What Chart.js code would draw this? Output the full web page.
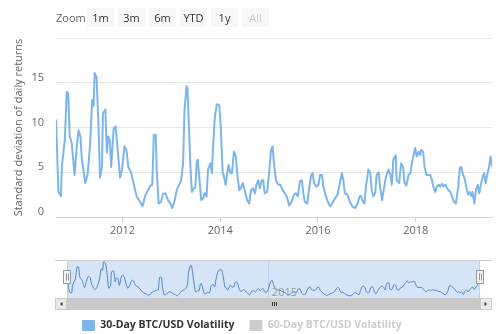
<!DOCTYPE html>
<html>
<head>
<meta charset="utf-8">
<script src="https://cdn.jsdelivr.net/npm/chart.js@4/dist/chart.umd.min.js"></script>
<style>
  body { margin: 0; width: 500px; height: 334px; overflow: hidden; background: #fff; font-family: 'Open Sans', sans-serif; }
  #wrap { position: relative; width: 500px; height: 334px; }
  canvas { position: absolute; left: 0; }
  #mainChart { top: 0; }
  #navChart { top: 250px; }
  .zoom-label { position: absolute; left: 56px; top: 9px; font-size: 11px; color: #666; line-height: 17px; }
  .rs-btn { position: absolute; top: 8px; width: 27px; height: 19px; background: #f7f7f7; color: #333;
            font-size: 11px; line-height: 19px; text-align: center; }
  .rs-btn.off { color: #ccc; }
</style>
</head>
<body>
<div id="wrap">
  <canvas id="mainChart" width="500" height="250"></canvas>
  <canvas id="navChart" width="500" height="91"></canvas>
  <div class="zoom-label">Zoom</div>
  <div id="buttons"></div>
</div>
<script>
// decimal years and 30-day volatility
const years = [
  2010.64, 2010.69, 2010.74, 2010.76, 2010.82, 2010.86, 2010.89, 2010.92, 2010.96, 2011.02,
  2011.06, 2011.10, 2011.14, 2011.17, 2011.24, 2011.29, 2011.34, 2011.38, 2011.41, 2011.43,
  2011.47, 2011.51, 2011.54, 2011.58, 2011.60, 2011.65, 2011.68, 2011.71, 2011.74, 2011.77,
  2011.82, 2011.86, 2011.90, 2011.95, 2011.99, 2012.04, 2012.08, 2012.12, 2012.18, 2012.25,
  2012.29, 2012.36, 2012.41, 2012.46, 2012.52, 2012.57, 2012.61, 2012.64, 2012.68, 2012.70,
  2012.74, 2012.79, 2012.83, 2012.88, 2012.93, 2012.98, 2013.02, 2013.07, 2013.11, 2013.15,
  2013.20, 2013.24, 2013.27, 2013.31, 2013.33, 2013.36, 2013.39, 2013.42, 2013.46, 2013.49,
  2013.52, 2013.54, 2013.57, 2013.61, 2013.65, 2013.68, 2013.72, 2013.75, 2013.80, 2013.83,
  2013.85, 2013.89, 2013.93, 2013.98, 2014.01, 2014.05, 2014.07, 2014.11, 2014.14, 2014.17,
  2014.21, 2014.24, 2014.28, 2014.32, 2014.35, 2014.39, 2014.42, 2014.46, 2014.50, 2014.55,
  2014.59, 2014.63, 2014.67, 2014.71, 2014.74, 2014.78, 2014.81, 2014.85, 2014.88, 2014.91,
  2014.96, 2015.00, 2015.04, 2015.07, 2015.10, 2015.14, 2015.19, 2015.23, 2015.28, 2015.32,
  2015.36, 2015.41, 2015.46, 2015.51, 2015.55, 2015.59, 2015.63, 2015.67, 2015.70, 2015.73,
  2015.78, 2015.82, 2015.86, 2015.89, 2015.92, 2015.97, 2016.01, 2016.04, 2016.08, 2016.11,
  2016.15, 2016.20, 2016.25, 2016.29, 2016.35, 2016.40, 2016.44, 2016.49, 2016.52, 2016.55,
  2016.60, 2016.66, 2016.71, 2016.76, 2016.81, 2016.85, 2016.88, 2016.92, 2016.95, 2016.98,
  2017.03, 2017.07, 2017.10, 2017.13, 2017.17, 2017.20, 2017.24, 2017.27, 2017.31, 2017.35,
  2017.39, 2017.44, 2017.48, 2017.51, 2017.54, 2017.59, 2017.61, 2017.66, 2017.70, 2017.74,
  2017.77, 2017.81, 2017.85, 2017.89, 2017.92, 2017.95, 2017.99, 2018.02, 2018.06, 2018.09,
  2018.11, 2018.15, 2018.18, 2018.22, 2018.26, 2018.30, 2018.33, 2018.36, 2018.40, 2018.43,
  2018.47, 2018.50, 2018.54, 2018.57, 2018.61, 2018.64, 2018.67, 2018.71, 2018.74, 2018.78,
  2018.82, 2018.87, 2018.90, 2018.93, 2018.97, 2019.00, 2019.04, 2019.07, 2019.10, 2019.14,
  2019.16, 2019.20, 2019.23, 2019.27, 2019.30, 2019.34, 2019.37, 2019.40, 2019.43, 2019.47,
  2019.50, 2019.53, 2019.56
];
const vol30 = [
  10.9, 2.8, 2.35, 5.6, 8.6, 14.0, 13.8, 9.0, 8.3, 4.7,
  7.5, 9.7, 9.0, 6.4, 3.8, 4.9, 8.3, 13.1, 12.4, 16.1,
  15.6, 10.1, 4.4, 5.6, 11.6, 12.0, 7.2, 9.0, 8.6, 5.6,
  9.9, 10.1, 7.7, 4.4, 5.3, 7.9, 7.5, 5.6, 4.9, 3.2,
  2.3, 1.7, 1.2, 2.3, 3.0, 3.5, 3.6, 9.2, 9.2, 5.3,
  1.5, 1.7, 2.6, 2.65, 1.9, 1.5, 1.0, 1.9, 3.0, 3.5,
  4.1, 6.0, 12.0, 14.6, 14.4, 10.1, 5.6, 2.8, 3.2, 3.3,
  6.2, 6.4, 4.5, 1.9, 2.1, 2.65, 2.3, 5.3, 6.0, 4.9,
  7.5, 11.2, 12.6, 12.5, 10.1, 4.9, 4.7, 3.6, 4.7, 5.8,
  4.9, 4.9, 7.3, 6.75, 4.7, 3.0, 3.2, 3.8, 3.0, 1.9,
  1.5, 3.0, 3.2, 2.65, 3.6, 4.1, 3.2, 4.1, 4.1, 2.65,
  2.8, 4.9, 7.5, 7.9, 6.0, 4.1, 3.6, 3.6, 3.0, 2.65,
  2.3, 1.3, 1.7, 2.5, 2.65, 2.3, 4.0, 4.1, 2.65, 1.7,
  1.5, 3.2, 4.7, 4.9, 3.8, 3.4, 3.6, 4.7, 4.7, 3.4,
  2.5, 1.7, 1.2, 1.5, 2.1, 2.5, 3.6, 4.9, 4.1, 2.65,
  2.5, 1.6, 1.15, 1.0, 1.5, 2.3, 2.35, 1.7, 1.5, 3.4,
  5.3, 4.9, 3.0, 2.3, 2.65, 4.7, 5.0, 3.4, 1.9, 3.2,
  4.5, 5.3, 4.7, 3.6, 6.4, 6.9, 4.1, 3.8, 6.0, 5.6,
  3.8, 3.5, 4.7, 4.9, 6.0, 6.75, 7.7, 6.75, 7.3, 6.9,
  7.5, 7.3, 5.6, 4.7, 4.7, 4.7, 4.1, 3.4, 2.8, 3.4,
  3.6, 3.4, 3.7, 3.4, 3.6, 3.2, 3.0, 2.8, 2.3, 1.7,
  1.5, 3.4, 5.45, 5.6, 4.7, 4.3, 3.2, 2.5, 2.8, 2.35,
  2.8, 1.5, 3.0, 3.6, 2.65, 3.8, 4.5, 4.9, 3.8, 4.9,
  5.6, 6.75, 5.6
];
const seriesNames = ['30-Day BTC/USD Volatility', '60-Day BTC/USD Volatility'];
const xTicks = [2012, 2014, 2016, 2018];
const yTicks = [0, 5, 10, 15, 20];
const navTicks = [2015];
const zoomButtons = ['1m', '3m', '6m', 'YTD', '1y', 'All'];
const yTitle = 'Standard deviation of daily returns';

const FONT = "'Open Sans', sans-serif";
const points = years.map((y, i) => ({ x: y, y: vol30[i] }));

// range selector buttons
const btnBox = document.getElementById('buttons');
zoomButtons.forEach((b, i) => {
  const d = document.createElement('div');
  d.className = 'rs-btn' + (b === 'All' ? ' off' : '');
  d.style.left = (87 + i * 31) + 'px';
  d.textContent = b;
  btnBox.appendChild(d);
});

new Chart(document.getElementById('mainChart'), {
  type: 'line',
  data: {
    datasets: [{
      label: seriesNames[0],
      data: points,
      borderColor: '#7cb5ec',
      borderWidth: 2,
      borderJoinStyle: 'round',
      pointRadius: 0,
      tension: 0,
      fill: false
    }]
  },
  options: {
    responsive: false,
    animation: false,
    layout: { padding: { top: 38, right: 8, left: 0, bottom: 0 } },
    plugins: { legend: { display: false }, tooltip: { enabled: false } },
    scales: {
      x: {
        type: 'linear',
        min: years[0],
        max: years[years.length - 1],
        afterBuildTicks: s => { s.ticks = xTicks.map(v => ({ value: v })); },
        afterFit: s => { s.height = 33; },
        grid: { drawOnChartArea: false, drawTicks: true, tickLength: 5, tickColor: '#ccd6eb' },
        border: { color: '#ccd6eb' },
        ticks: {
          callback: v => String(v),
          color: '#666',
          font: { family: FONT, size: 11 },
          maxRotation: 0,
          autoSkip: false,
          padding: 2
        }
      },
      y: {
        min: 0,
        max: 20,
        afterBuildTicks: s => { s.ticks = yTicks.map(v => ({ value: v })); },
        afterFit: s => { s.width = 56; },
        grid: { color: '#e6e6e6', drawTicks: false },
        border: { display: false },
        ticks: {
          callback: v => (v === 20 ? '' : String(v)),
          color: '#666',
          font: { family: FONT, size: 11 },
          padding: 12,
          labelOffset: -5
        },
        title: {
          display: true,
          text: yTitle,
          color: '#666',
          font: { family: FONT, size: 11 },
          padding: { top: 12, bottom: 0 }
        }
      }
    }
  }
});

// navigator extras: mask, outline, handles, scrollbar, axis label
const navDecor = {
  id: 'navDecor',
  beforeDraw(chart) {
    const { ctx, chartArea: a } = chart;
    ctx.save();
    ctx.fillStyle = '#d6e4f7';
    ctx.fillRect(a.left, a.top, a.right - a.left, a.bottom - a.top);
    ctx.restore();
  },
  afterDraw(chart) {
    const { ctx, chartArea: a } = chart;
    const outL = a.left - 12, outR = a.right + 12;
    ctx.save();
    // outline
    ctx.strokeStyle = '#cccccc';
    ctx.lineWidth = 1;
    ctx.beginPath();
    ctx.moveTo(outL, a.top + 0.5);
    ctx.lineTo(outR, a.top + 0.5);
    ctx.moveTo(a.left + 0.5, a.top);
    ctx.lineTo(a.left + 0.5, a.bottom);
    ctx.moveTo(a.right - 0.5, a.top);
    ctx.lineTo(a.right - 0.5, a.bottom);
    ctx.stroke();

    // axis label inside navigator
    const x15 = chart.scales.x.getPixelForValue(navTicks[0]);
    ctx.fillStyle = '#999';
    ctx.font = '11px ' + FONT;
    ctx.textBaseline = 'middle';
    ctx.fillText(String(navTicks[0]), x15 + 3, a.bottom - 5);

    // scrollbar
    const sy = a.bottom, sh = 12;
    ctx.fillStyle = '#f2f2f2';
    ctx.fillRect(outL, sy, outR - outL, sh);
    ctx.fillStyle = '#c9c9c9';
    ctx.fillRect(a.left, sy, a.right - a.left, sh);
    [[outL, -1], [a.right, 1]].forEach(([bx, dir]) => {
      ctx.fillStyle = '#e8e8e8';
      ctx.fillRect(bx, sy, 12, sh);
      ctx.strokeStyle = '#cccccc';
      ctx.strokeRect(bx + 0.5, sy + 0.5, 11, sh - 1);
      ctx.fillStyle = '#333';
      ctx.beginPath();
      const cx = bx + 6, cy = sy + sh / 2;
      ctx.moveTo(cx - dir * 1.5, cy - 2);
      ctx.lineTo(cx - dir * 1.5, cy + 2);
      ctx.lineTo(cx + dir * 1, cy);
      ctx.closePath();
      ctx.fill();
    });
    // rifles
    const mx = Math.round((a.left + a.right) / 2);
    ctx.strokeStyle = '#333';
    ctx.beginPath();
    for (let k = -2; k <= 2; k += 2) {
      ctx.moveTo(mx + k + 0.5, sy + 4);
      ctx.lineTo(mx + k + 0.5, sy + 8);
    }
    ctx.stroke();

    // handles
    [a.left, a.right].forEach(hx => {
      const hy = a.top + 10.5;
      ctx.fillStyle = '#f2f2f2';
      ctx.strokeStyle = '#999';
      ctx.fillRect(hx - 3.5, hy, 7, 13);
      ctx.strokeRect(Math.round(hx) - 3.5, hy, 7, 13);
      ctx.beginPath();
      ctx.moveTo(Math.round(hx) - 0.5, hy + 3);
      ctx.lineTo(Math.round(hx) - 0.5, hy + 10);
      ctx.moveTo(Math.round(hx) + 1.5, hy + 3);
      ctx.lineTo(Math.round(hx) + 1.5, hy + 10);
      ctx.stroke();
    });
    ctx.restore();
  }
};

const legendFill = ['#7cb5ec', '#cccccc'];
const legendText = ['#333333', '#cccccc'];

new Chart(document.getElementById('navChart'), {
  type: 'line',
  data: {
    datasets: [
      {
        label: seriesNames[0],
        data: points,
        borderColor: '#5585c5',
        borderWidth: 1,
        pointRadius: 0,
        tension: 0.3,
        fill: false
      },
      {
        label: seriesNames[1],
        data: [],
        borderColor: '#cccccc',
        pointRadius: 0
      }
    ]
  },
  options: {
    responsive: false,
    animation: false,
    layout: { padding: { top: 10, left: 67, right: 20, bottom: 0 } },
    plugins: {
      tooltip: { enabled: false },
      legend: {
        position: 'bottom',
        align: 'start',
        onClick: null,
        labels: {
          boxWidth: 13,
          boxHeight: 11,
          padding: 15,
          font: { family: FONT, size: 10.5, weight: 'bold' },
          generateLabels: () => seriesNames.map((n, i) => ({
            text: n,
            fillStyle: legendFill[i],
            strokeStyle: legendFill[i],
            lineWidth: 0,
            fontColor: legendText[i],
            hidden: false,
            borderRadius: 1,
            datasetIndex: i
          }))
        }
      }
    },
    scales: {
      x: {
        type: 'linear',
        min: years[0],
        max: years[years.length - 1],
        afterBuildTicks: s => { s.ticks = navTicks.map(v => ({ value: v })); },
        grid: { color: '#c3d2e8', drawTicks: true, tickLength: 7, tickColor: 'rgba(0,0,0,0)' },
        border: { display: false },
        ticks: { display: false }
      },
      y: { display: false, min: 0, max: 17 }
    }
  },
  plugins: [navDecor]
});
</script>
</body>
</html>
